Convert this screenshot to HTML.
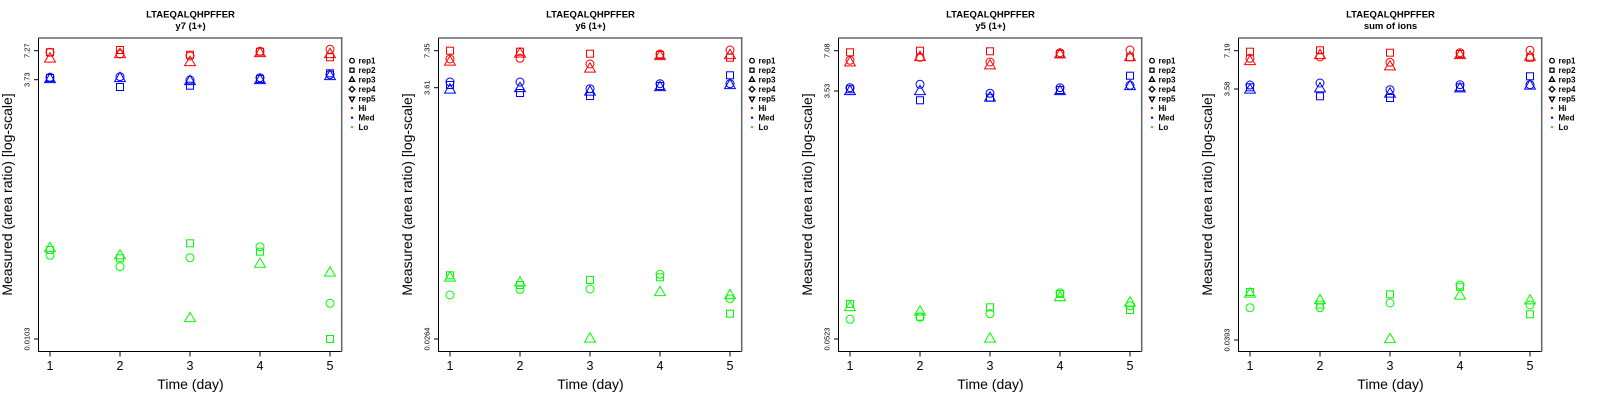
<!DOCTYPE html>
<html><head><meta charset="utf-8"><style>
html,body{margin:0;padding:0;background:#fff;}
svg{display:block;}
text{font-family:"Liberation Sans",Arial,sans-serif;}
</style></head><body>
<svg width="1600" height="400" viewBox="0 0 1600 400" xmlns="http://www.w3.org/2000/svg" xmlns:xlink="http://www.w3.org/1999/xlink">
<defs>
<circle id="c" r="4" fill="none"/>
<rect id="s" x="-3.5" y="-3.5" width="7" height="7" fill="none"/>
<path id="t" d="M0,-6.2 L5.4,3.1 L-5.4,3.1 Z" fill="none"/>
<g id="frame">
 <line x1="38.5" y1="38" x2="38.5" y2="351.5" stroke="#000" stroke-width="1"/>
 <line x1="38" y1="351.5" x2="342" y2="351.5" stroke="#000" stroke-width="1"/>
 <line x1="38" y1="38" x2="342.4" y2="38" stroke="#666" stroke-width="1.5"/>
 <line x1="341.7" y1="37.3" x2="341.7" y2="352" stroke="#666" stroke-width="1.5"/>
 <g stroke="#000" stroke-width="1">
  <line x1="50" y1="351.5" x2="50" y2="356.5"/>
  <line x1="120" y1="351.5" x2="120" y2="356.5"/>
  <line x1="190" y1="351.5" x2="190" y2="356.5"/>
  <line x1="260" y1="351.5" x2="260" y2="356.5"/>
  <line x1="330" y1="351.5" x2="330" y2="356.5"/>
 </g>
 <g font-size="12.5" text-anchor="middle" fill="#000">
  <text x="50" y="370">1</text>
  <text x="120" y="370">2</text>
  <text x="190" y="370">3</text>
  <text x="260" y="370">4</text>
  <text x="330" y="370">5</text>
 </g>
 <text x="190.5" y="389" font-size="14" text-anchor="middle">Time (day)</text>
 <text transform="translate(12,194.5) rotate(-90)" font-size="14" text-anchor="middle">Measured (area ratio) [log-scale]</text>
 <g stroke="#000" stroke-width="1.3" fill="none">
  <circle cx="352" cy="60.7" r="2.3"/>
  <rect x="350" y="68.2" width="4" height="4"/>
  <path d="M352,76.7 L354.6,81.3 L349.4,81.3 Z"/>
  <path d="M352,86.4 L354.8,89.2 L352,92 L349.2,89.2 Z"/>
  <path d="M352,101.7 L354.6,97.1 L349.4,97.1 Z"/>
 </g>
 <circle cx="352" cy="108.2" r="1.2" fill="#f00"/>
 <circle cx="352" cy="117.7" r="1.2" fill="#00f"/>
 <circle cx="352" cy="127.2" r="1.2" fill="#0f0"/>
 <g font-size="8" font-weight="bold" fill="#000">
  <text x="358.5" y="63.5">rep1</text>
  <text x="358.5" y="73">rep2</text>
  <text x="358.5" y="82.5">rep3</text>
  <text x="358.5" y="92">rep4</text>
  <text x="358.5" y="101.5">rep5</text>
  <text x="358.5" y="111">Hi</text>
  <text x="358.5" y="120.5">Med</text>
  <text x="358.5" y="130">Lo</text>
 </g>
</g>
</defs>
<rect x="0" y="0" width="1600" height="400" fill="#fff"/>

<!-- Panel 1 -->
<g transform="translate(0,0)">
 <use href="#frame"/>
 <g font-size="9.5" font-weight="bold" text-anchor="middle">
  <text x="190.5" y="17.5">LTAEQALQHPFFER</text>
  <text x="190.5" y="29">y7 (1+)</text>
 </g>
 <g stroke="#000">
  <line x1="34" y1="50.7" x2="38.5" y2="50.7"/>
  <line x1="34" y1="79.7" x2="38.5" y2="79.7"/>
  <line x1="34" y1="339" x2="38.5" y2="339"/>
 </g>
 <g font-size="7.5" text-anchor="middle">
  <text transform="translate(29.5,50.7) rotate(-90)">7.27</text>
  <text transform="translate(29.5,79.7) rotate(-90)">3.73</text>
  <text transform="translate(29.5,339) rotate(-90)">0.0103</text>
 </g>
 <g stroke="#f00" stroke-width="1">
  <use href="#c" x="50" y="52.3"/><use href="#s" x="50" y="52.3"/><use href="#t" x="50" y="59"/>
  <use href="#c" x="120" y="54"/><use href="#s" x="120" y="50"/><use href="#t" x="120" y="54.5"/>
  <use href="#c" x="190" y="56"/><use href="#s" x="190" y="54.7"/><use href="#t" x="190" y="62.5"/>
  <use href="#c" x="260" y="51.3"/><use href="#s" x="260" y="51.7"/><use href="#t" x="260" y="53.5"/>
  <use href="#c" x="330" y="49.3"/><use href="#s" x="330" y="57.3"/><use href="#t" x="330" y="54.5"/>
 </g>
 <g stroke="#00f" stroke-width="1">
  <use href="#c" x="50" y="77.3"/><use href="#s" x="50" y="78"/><use href="#t" x="50" y="79.5"/>
  <use href="#c" x="120" y="76.7"/><use href="#s" x="120" y="87"/><use href="#t" x="120" y="78.5"/>
  <use href="#c" x="190" y="80"/><use href="#s" x="190" y="85.7"/><use href="#t" x="190" y="81.5"/>
  <use href="#c" x="260" y="77.7"/><use href="#s" x="260" y="79"/><use href="#t" x="260" y="80.5"/>
  <use href="#c" x="330" y="74.7"/><use href="#s" x="330" y="73.3"/><use href="#t" x="330" y="76.5"/>
 </g>
 <g stroke="#0f0" stroke-width="1">
  <use href="#c" x="50" y="255.3"/><use href="#s" x="50" y="250"/><use href="#t" x="50" y="248.5"/>
  <use href="#c" x="120" y="266.7"/><use href="#s" x="120" y="258.3"/><use href="#t" x="120" y="255.8"/>
  <use href="#c" x="190" y="257.7"/><use href="#s" x="190" y="243.3"/><use href="#t" x="190" y="318.5"/>
  <use href="#c" x="260" y="246.7"/><use href="#s" x="260" y="251.7"/><use href="#t" x="260" y="264.2"/>
  <use href="#c" x="330" y="303.3"/><use href="#s" x="330" y="339"/><use href="#t" x="330" y="273"/>
 </g>
</g>

<!-- Panel 2 -->
<g transform="translate(400,0)">
 <use href="#frame"/>
 <g font-size="9.5" font-weight="bold" text-anchor="middle">
  <text x="190.5" y="17.5">LTAEQALQHPFFER</text>
  <text x="190.5" y="29">y6 (1+)</text>
 </g>
 <g stroke="#000">
  <line x1="34" y1="50.7" x2="38.5" y2="50.7"/>
  <line x1="34" y1="87.7" x2="38.5" y2="87.7"/>
  <line x1="34" y1="339" x2="38.5" y2="339"/>
 </g>
 <g font-size="7.5" text-anchor="middle">
  <text transform="translate(29.5,50.7) rotate(-90)">7.35</text>
  <text transform="translate(29.5,87.7) rotate(-90)">3.61</text>
  <text transform="translate(29.5,339) rotate(-90)">0.0264</text>
 </g>
 <g stroke="#f00" stroke-width="1">
  <use href="#c" x="50" y="59"/><use href="#s" x="50" y="50.7"/><use href="#t" x="50" y="62"/>
  <use href="#c" x="120" y="58.3"/><use href="#s" x="120" y="51.7"/><use href="#t" x="120" y="54"/>
  <use href="#c" x="190" y="64"/><use href="#s" x="190" y="53.7"/><use href="#t" x="190" y="69"/>
  <use href="#c" x="260" y="54"/><use href="#s" x="260" y="55"/><use href="#t" x="260" y="56.5"/>
  <use href="#c" x="330" y="50"/><use href="#s" x="330" y="57.7"/><use href="#t" x="330" y="55.5"/>
 </g>
 <g stroke="#00f" stroke-width="1">
  <use href="#c" x="50" y="82"/><use href="#s" x="50" y="85"/><use href="#t" x="50" y="90"/>
  <use href="#c" x="120" y="82"/><use href="#s" x="120" y="93"/><use href="#t" x="120" y="88.5"/>
  <use href="#c" x="190" y="88.7"/><use href="#s" x="190" y="96"/><use href="#t" x="190" y="92"/>
  <use href="#c" x="260" y="83.7"/><use href="#s" x="260" y="86"/><use href="#t" x="260" y="87.5"/>
  <use href="#c" x="330" y="83.7"/><use href="#s" x="330" y="75.3"/><use href="#t" x="330" y="85.5"/>
 </g>
 <g stroke="#0f0" stroke-width="1">
  <use href="#c" x="50" y="295"/><use href="#s" x="50" y="275.3"/><use href="#t" x="50" y="278"/>
  <use href="#c" x="120" y="289.3"/><use href="#s" x="120" y="285"/><use href="#t" x="120" y="283"/>
  <use href="#c" x="190" y="289"/><use href="#s" x="190" y="280"/><use href="#t" x="190" y="339"/>
  <use href="#c" x="260" y="274.3"/><use href="#s" x="260" y="277.3"/><use href="#t" x="260" y="292.5"/>
  <use href="#c" x="330" y="298.7"/><use href="#s" x="330" y="313.7"/><use href="#t" x="330" y="295.5"/>
 </g>
</g>

<!-- Panel 3 -->
<g transform="translate(800,0)">
 <use href="#frame"/>
 <g font-size="9.5" font-weight="bold" text-anchor="middle">
  <text x="190.5" y="17.5">LTAEQALQHPFFER</text>
  <text x="190.5" y="29">y5 (1+)</text>
 </g>
 <g stroke="#000">
  <line x1="34" y1="50.7" x2="38.5" y2="50.7"/>
  <line x1="34" y1="91" x2="38.5" y2="91"/>
  <line x1="34" y1="339" x2="38.5" y2="339"/>
 </g>
 <g font-size="7.5" text-anchor="middle">
  <text transform="translate(29.5,50.7) rotate(-90)">7.08</text>
  <text transform="translate(29.5,91) rotate(-90)">3.53</text>
  <text transform="translate(29.5,339) rotate(-90)">0.0523</text>
 </g>
 <g stroke="#f00" stroke-width="1">
  <use href="#c" x="50" y="60.3"/><use href="#s" x="50" y="52.3"/><use href="#t" x="50" y="62.8"/>
  <use href="#c" x="120" y="57.3"/><use href="#s" x="120" y="50.7"/><use href="#t" x="120" y="57.5"/>
  <use href="#c" x="190" y="62"/><use href="#s" x="190" y="51.3"/><use href="#t" x="190" y="65.8"/>
  <use href="#c" x="260" y="52.7"/><use href="#s" x="260" y="54"/><use href="#t" x="260" y="54.8"/>
  <use href="#c" x="330" y="50"/><use href="#s" x="330" y="57.3"/><use href="#t" x="330" y="57.5"/>
 </g>
 <g stroke="#00f" stroke-width="1">
  <use href="#c" x="50" y="87.7"/><use href="#s" x="50" y="89.3"/><use href="#t" x="50" y="91.5"/>
  <use href="#c" x="120" y="84.3"/><use href="#s" x="120" y="100.3"/><use href="#t" x="120" y="91.5"/>
  <use href="#c" x="190" y="93.3"/><use href="#s" x="190" y="97.7"/><use href="#t" x="190" y="98"/>
  <use href="#c" x="260" y="87.7"/><use href="#s" x="260" y="90"/><use href="#t" x="260" y="91.5"/>
  <use href="#c" x="330" y="85.3"/><use href="#s" x="330" y="75.7"/><use href="#t" x="330" y="86.5"/>
 </g>
 <g stroke="#0f0" stroke-width="1">
  <use href="#c" x="50" y="319.3"/><use href="#s" x="50" y="304"/><use href="#t" x="50" y="307.5"/>
  <use href="#c" x="120" y="317.3"/><use href="#s" x="120" y="316.7"/><use href="#t" x="120" y="312"/>
  <use href="#c" x="190" y="313.7"/><use href="#s" x="190" y="307.3"/><use href="#t" x="190" y="339"/>
  <use href="#c" x="260" y="292.7"/><use href="#s" x="260" y="294"/><use href="#t" x="260" y="297.5"/>
  <use href="#c" x="330" y="305.7"/><use href="#s" x="330" y="310"/><use href="#t" x="330" y="303"/>
 </g>
</g>

<!-- Panel 4 -->
<g transform="translate(1200,0)">
 <use href="#frame"/>
 <g font-size="9.5" font-weight="bold" text-anchor="middle">
  <text x="190.5" y="17.5">LTAEQALQHPFFER</text>
  <text x="190.5" y="29">sum of ions</text>
 </g>
 <g stroke="#000">
  <line x1="34" y1="50.7" x2="38.5" y2="50.7"/>
  <line x1="34" y1="89" x2="38.5" y2="89"/>
  <line x1="34" y1="340" x2="38.5" y2="340"/>
 </g>
 <g font-size="7.5" text-anchor="middle">
  <text transform="translate(29.5,50.7) rotate(-90)">7.19</text>
  <text transform="translate(29.5,89) rotate(-90)">3.58</text>
  <text transform="translate(29.5,340) rotate(-90)">0.0393</text>
 </g>
 <g stroke="#f00" stroke-width="1">
  <use href="#c" x="50" y="58.3"/><use href="#s" x="50" y="51.7"/><use href="#t" x="50" y="61.5"/>
  <use href="#c" x="120" y="57"/><use href="#s" x="120" y="50.3"/><use href="#t" x="120" y="55.5"/>
  <use href="#c" x="190" y="62.3"/><use href="#s" x="190" y="52.7"/><use href="#t" x="190" y="66.8"/>
  <use href="#c" x="260" y="52.7"/><use href="#s" x="260" y="54"/><use href="#t" x="260" y="55.5"/>
  <use href="#c" x="330" y="50.3"/><use href="#s" x="330" y="57.7"/><use href="#t" x="330" y="57.2"/>
 </g>
 <g stroke="#00f" stroke-width="1">
  <use href="#c" x="50" y="85"/><use href="#s" x="50" y="87.3"/><use href="#t" x="50" y="90"/>
  <use href="#c" x="120" y="83"/><use href="#s" x="120" y="96.3"/><use href="#t" x="120" y="88.8"/>
  <use href="#c" x="190" y="89.7"/><use href="#s" x="190" y="98"/><use href="#t" x="190" y="94"/>
  <use href="#c" x="260" y="84.7"/><use href="#s" x="260" y="87.3"/><use href="#t" x="260" y="88.8"/>
  <use href="#c" x="330" y="84.7"/><use href="#s" x="330" y="76.3"/><use href="#t" x="330" y="86"/>
 </g>
 <g stroke="#0f0" stroke-width="1">
  <use href="#c" x="50" y="307.7"/><use href="#s" x="50" y="292"/><use href="#t" x="50" y="294"/>
  <use href="#c" x="120" y="307.7"/><use href="#s" x="120" y="304.7"/><use href="#t" x="120" y="300.5"/>
  <use href="#c" x="190" y="303"/><use href="#s" x="190" y="294.3"/><use href="#t" x="190" y="339.5"/>
  <use href="#c" x="260" y="285"/><use href="#s" x="260" y="286.7"/><use href="#t" x="260" y="296"/>
  <use href="#c" x="330" y="305"/><use href="#s" x="330" y="314.3"/><use href="#t" x="330" y="300.8"/>
 </g>
</g>
</svg>
</body></html>
